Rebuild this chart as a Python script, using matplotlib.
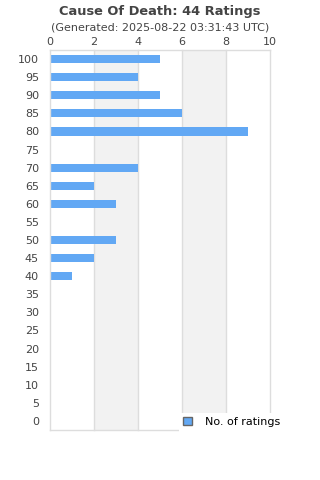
import matplotlib
matplotlib.use("Agg")
import matplotlib.pyplot as plt
from matplotlib.patches import Patch

categories = [100, 95, 90, 85, 80, 75, 70, 65, 60, 55, 50, 45, 40, 35, 30, 25, 20, 15, 10, 5, 0]
ratings = [5, 4, 5, 6, 9, 0, 4, 2, 3, 0, 3, 2, 1, 0, 0, 0, 0, 0, 0, 0, 0]
xticks = [0, 2, 4, 6, 8, 10]
title = "Cause Of Death: 44 Ratings"
subtitle = "(Generated: 2025-08-22 03:31:43 UTC)"
series_name = "No. of ratings"

plt.rcParams['font.family'] = ['DejaVu Sans']
fig = plt.figure(figsize=(3.2, 4.8), dpi=100)
ax = fig.add_axes([50/320, 1-430/480, 220/320, 380/480])

n = len(categories)
ypos = list(range(n))
ax.set_ylim(n - 0.5, -0.5)
ax.set_xlim(0, 10)

# alternating bands
for i in range(len(xticks) - 1):
    if i % 2 == 1:
        ax.axvspan(xticks[i], xticks[i+1], color='#f2f2f2', zorder=0, lw=0)
for x in xticks[1:]:
    ax.axvline(x, color='#dddddd', lw=1, zorder=1, clip_on=False)

ax.barh(ypos, ratings, height=0.45, color='#62a8f4', zorder=2)

ax.set_yticks(ypos)
ax.set_yticklabels([str(c) for c in categories], fontsize=8, color='#444444')
ax.set_xticks(xticks)
ax.set_xticklabels([str(x) for x in xticks], fontsize=8, color='#444444')
ax.xaxis.tick_top()
ax.tick_params(axis='both', length=0, pad=2)
ax.tick_params(axis='y', pad=8)
for s in ['left', 'bottom', 'top']:
    ax.spines[s].set_color('#dddddd')
    ax.spines[s].set_linewidth(1)
ax.spines['right'].set_visible(False)

fig.text(0.5, 1-11/480, title, ha='center', va='center', fontsize=9.4, fontweight='bold', color='#444444')
fig.text(0.5, 1-27/480, subtitle, ha='center', va='center', fontsize=8, color='#444444')

leg = fig.legend(handles=[Patch(facecolor='#62a8f4', edgecolor='#666666', label=series_name)],
                 loc='center', bbox_to_anchor=(232/320, 1-422/480), fontsize=8,
                 frameon=True, handlelength=0.8, handleheight=0.8, handletextpad=1.2,
                 borderpad=0.4, fancybox=False)
leg.get_frame().set_edgecolor('none')
leg.get_frame().set_facecolor('white')
leg.get_frame().set_alpha(1)

fig.savefig('out.png', dpi=100)
